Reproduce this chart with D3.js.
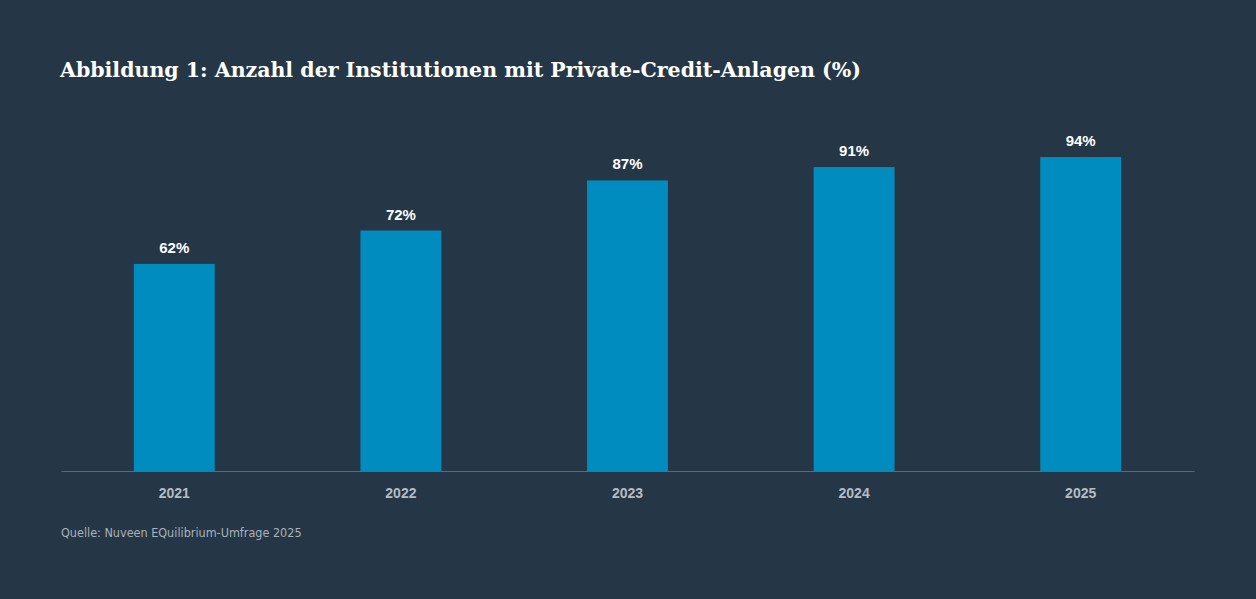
<!DOCTYPE html>
<html><head><meta charset="utf-8">
<script src="https://cdn.jsdelivr.net/npm/d3@7"></script>
<style>body{margin:0;background:#253746;}</style>
</head><body>
<svg id="c" width="1256" height="599"></svg>
<script>
const categories = ["2021","2022","2023","2024","2025"];
const values = [62,72,87,91,94];
const svg = d3.select("#c");
svg.append("rect").attr("width",1256).attr("height",599).attr("fill","#253746");
svg.append("text").attr("x",60).attr("y",77).attr("fill","#fff")
  .attr("font-family","'DejaVu Serif', 'Liberation Serif', serif").attr("font-weight","bold").attr("font-size",20.5)
  .text("Abbildung 1: Anzahl der Institutionen mit Private-Credit-Anlagen (%)");
const x = d3.scaleBand().domain(categories).range([61,1194]).paddingInner(0.643).paddingOuter(0.3215);
const y = d3.scaleLinear().domain([0,100]).range([471,137]);
svg.selectAll("rect.bar").data(values).join("rect").attr("class","bar")
  .attr("x",(d,i)=>x(categories[i])).attr("width",x.bandwidth())
  .attr("y",d=>y(d)).attr("height",d=>y(0)-y(d)).attr("fill","#008cbf");
svg.selectAll("text.val").data(values).join("text").attr("class","val")
  .attr("x",(d,i)=>x(categories[i])+x.bandwidth()/2).attr("y",d=>y(d)-11)
  .attr("text-anchor","middle").attr("fill","#fff").attr("font-family","'Liberation Sans', Arial, sans-serif")
  .attr("font-weight","bold").attr("font-size",15).text(d=>d+"%");
const ax = svg.append("g").attr("transform","translate(0,471)").call(d3.axisBottom(x).tickSize(0).tickPadding(17));
ax.select(".domain").attr("stroke","#5a6a78");
ax.selectAll("text").attr("fill","#b4bcc4").attr("font-family","'Liberation Sans', Arial, sans-serif").attr("font-weight","bold").attr("font-size",14);
svg.append("text").attr("x",61).attr("y",537).attr("fill","#a8b2bc")
  .attr("font-family","'Liberation Sans Narrow', 'DejaVu Sans Condensed', sans-serif").attr("font-stretch","condensed").attr("font-size",12.5)
  .text("Quelle: Nuveen EQuilibrium-Umfrage 2025");
</script>
</body></html>
